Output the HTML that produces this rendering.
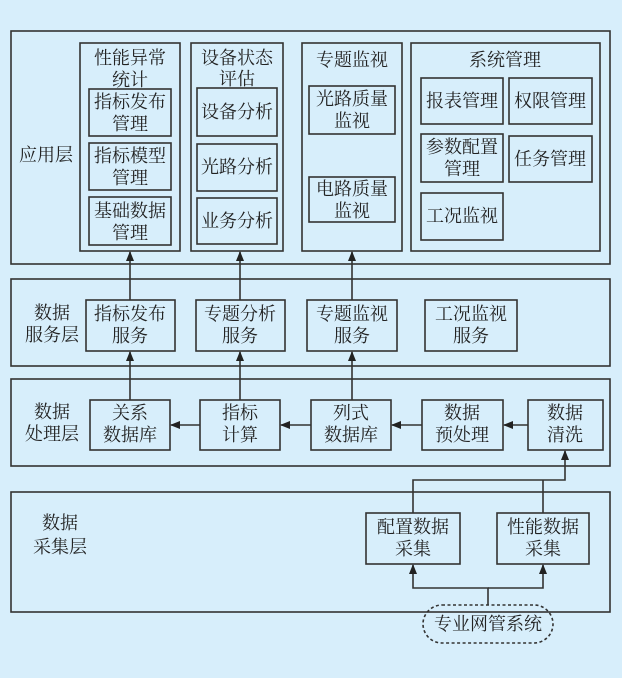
<!DOCTYPE html>
<html><head><meta charset="utf-8"><style>
html,body{margin:0;padding:0;background:#d7eefb;}
svg{display:block}
text{font-family:"Noto Serif CJK SC","Liberation Serif",serif;font-size:18px;fill:#222;text-anchor:middle;}
.b{fill:none;stroke:#333;stroke-width:1.6}
.l{fill:none;stroke:#333;stroke-width:1.6}
</style></head><body>
<svg width="622" height="678" viewBox="0 0 622 678">
<defs><marker id="a" markerWidth="10" markerHeight="10" refX="9" refY="5" orient="auto" markerUnits="userSpaceOnUse"><path d="M0,1 L10,5 L0,9 z" fill="#222"/></marker></defs>
<rect width="622" height="678" fill="#d7eefb"/>
<rect class="b" x="11" y="31" width="599" height="233"/>
<text x="46" y="161">应用层</text>
<rect class="b" x="80" y="43" width="100" height="208"/>
<text x="130" y="64">性能异常</text><text x="130" y="86">统计</text>
<rect class="b" x="89" y="89" width="82" height="47"/><text x="130" y="108">指标发布</text><text x="130" y="130">管理</text>
<rect class="b" x="89" y="143" width="82" height="47"/><text x="130" y="162">指标模型</text><text x="130" y="184">管理</text>
<rect class="b" x="89" y="197" width="82" height="48"/><text x="130" y="217">基础数据</text><text x="130" y="239">管理</text>
<rect class="b" x="191" y="43" width="92" height="208"/>
<text x="237" y="64">设备状态</text><text x="237" y="85">评估</text>
<rect class="b" x="197" y="88" width="80" height="48"/><text x="237" y="118">设备分析</text>
<rect class="b" x="197" y="144" width="80" height="47"/><text x="237" y="173">光路分析</text>
<rect class="b" x="197" y="198" width="80" height="46"/><text x="237" y="227">业务分析</text>
<rect class="b" x="302" y="43" width="100" height="208"/>
<text x="352" y="66">专题监视</text>
<rect class="b" x="309" y="86" width="86" height="48"/><text x="352" y="105">光路质量</text><text x="352" y="127">监视</text>
<rect class="b" x="309" y="177" width="86" height="45"/><text x="352" y="195">电路质量</text><text x="352" y="217">监视</text>
<rect class="b" x="411" y="43" width="189" height="208"/>
<text x="505" y="66">系统管理</text>
<rect class="b" x="421" y="78" width="82" height="46"/><text x="462" y="107">报表管理</text>
<rect class="b" x="509" y="78" width="83" height="46"/><text x="550" y="107">权限管理</text>
<rect class="b" x="421" y="134" width="82" height="48"/><text x="462" y="153">参数配置</text><text x="462" y="175">管理</text>
<rect class="b" x="509" y="136" width="83" height="46"/><text x="550" y="165">任务管理</text>
<rect class="b" x="421" y="193" width="82" height="47"/><text x="462" y="222">工况监视</text>
<rect class="b" x="11" y="279" width="599" height="87"/>
<text x="52" y="319">数据</text><text x="52" y="341">服务层</text>
<rect class="b" x="86" y="300" width="89" height="51"/><text x="130" y="320">指标发布</text><text x="130" y="342">服务</text>
<rect class="b" x="196" y="300" width="89" height="51"/><text x="240" y="320">专题分析</text><text x="240" y="342">服务</text>
<rect class="b" x="307" y="300" width="90" height="51"/><text x="352" y="320">专题监视</text><text x="352" y="342">服务</text>
<rect class="b" x="425" y="300" width="92" height="51"/><text x="471" y="320">工况监视</text><text x="471" y="342">服务</text>
<line class="l" x1="130" y1="300" x2="130" y2="252" marker-end="url(#a)"/>
<line class="l" x1="240" y1="300" x2="240" y2="252" marker-end="url(#a)"/>
<line class="l" x1="352" y1="300" x2="352" y2="252" marker-end="url(#a)"/>
<rect class="b" x="11" y="379" width="599" height="87"/>
<text x="52" y="418">数据</text><text x="52" y="440">处理层</text>
<rect class="b" x="90" y="400" width="80" height="50"/><text x="130" y="419">关系</text><text x="130" y="441">数据库</text>
<rect class="b" x="200" y="400" width="80" height="50"/><text x="240" y="419">指标</text><text x="240" y="441">计算</text>
<rect class="b" x="311" y="400" width="80" height="50"/><text x="351" y="419">列式</text><text x="351" y="441">数据库</text>
<rect class="b" x="422" y="400" width="81" height="50"/><text x="462" y="419">数据</text><text x="462" y="441">预处理</text>
<rect class="b" x="528" y="400" width="75" height="50"/><text x="565" y="419">数据</text><text x="565" y="441">清洗</text>
<line class="l" x1="528" y1="425" x2="504" y2="425" marker-end="url(#a)"/>
<line class="l" x1="422" y1="425" x2="392" y2="425" marker-end="url(#a)"/>
<line class="l" x1="311" y1="425" x2="281" y2="425" marker-end="url(#a)"/>
<line class="l" x1="200" y1="425" x2="171" y2="425" marker-end="url(#a)"/>
<line class="l" x1="130" y1="400" x2="130" y2="352" marker-end="url(#a)"/>
<line class="l" x1="240" y1="400" x2="240" y2="352" marker-end="url(#a)"/>
<line class="l" x1="352" y1="400" x2="352" y2="352" marker-end="url(#a)"/>
<rect class="b" x="11" y="492" width="599" height="120"/>
<text x="60" y="529">数据</text><text x="60" y="553">采集层</text>
<rect class="b" x="366" y="513" width="94" height="51"/><text x="413" y="533">配置数据</text><text x="413" y="555">采集</text>
<rect class="b" x="497" y="513" width="92" height="51"/><text x="543" y="533">性能数据</text><text x="543" y="555">采集</text>
<polyline class="l" points="413,513 413,480 565,480 565,451" marker-end="url(#a)"/>
<line class="l" x1="543" y1="513" x2="543" y2="480"/>
<polyline class="l" points="488,605 488,588 413,588 413,565" marker-end="url(#a)"/>
<polyline class="l" points="488,588 543,588 543,565" marker-end="url(#a)"/>
<rect x="423" y="605" width="130" height="38" rx="19" fill="none" stroke="#333" stroke-width="1.6" stroke-dasharray="3,2.5"/>
<text x="488" y="630">专业网管系统</text>
</svg>
</body></html>
